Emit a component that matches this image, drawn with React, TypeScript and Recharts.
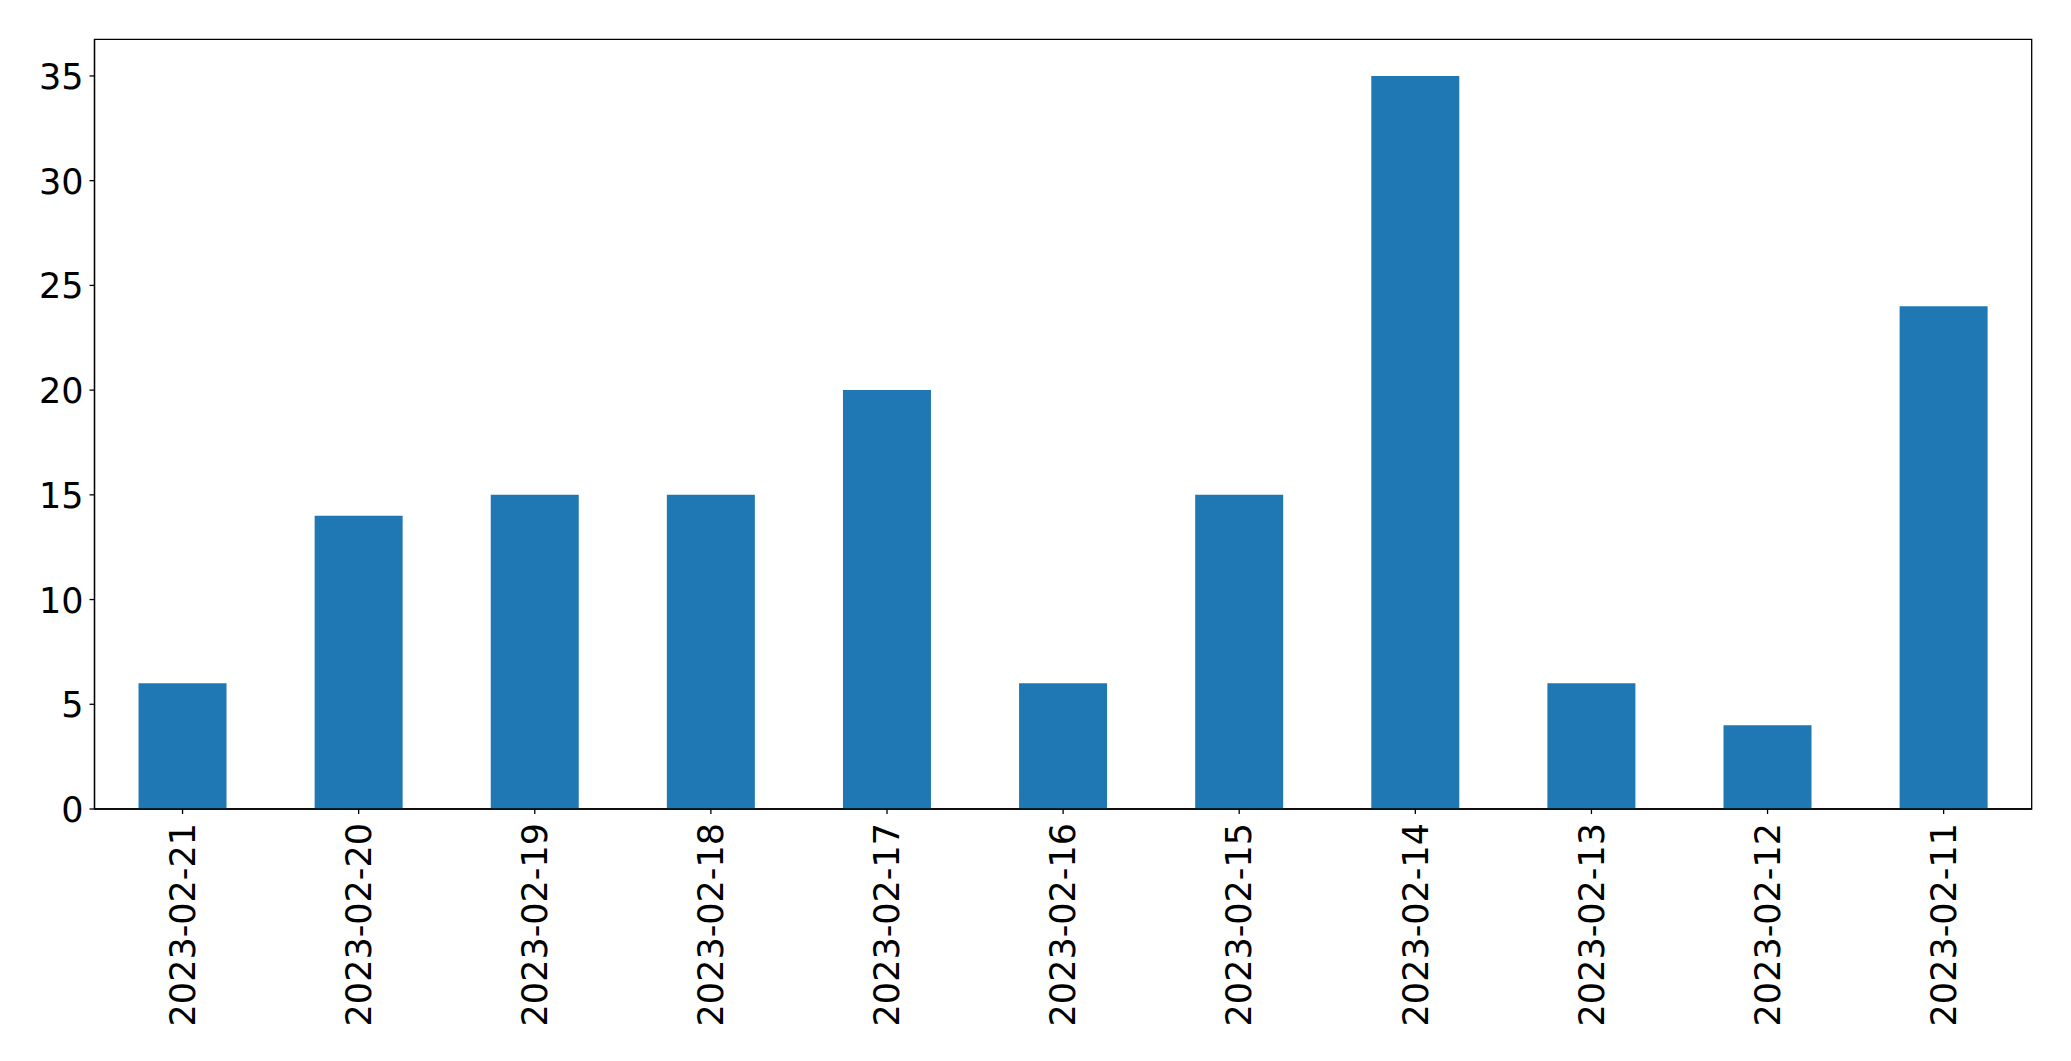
import React from "react";
import { BarChart, Bar, XAxis, YAxis, ReferenceArea } from "recharts";

const categories = [
  "2023-02-21",
  "2023-02-20",
  "2023-02-19",
  "2023-02-18",
  "2023-02-17",
  "2023-02-16",
  "2023-02-15",
  "2023-02-14",
  "2023-02-13",
  "2023-02-12",
  "2023-02-11",
];
const counts = [6, 14, 15, 15, 20, 6, 15, 35, 6, 4, 24];
const yTicks = [0, 5, 10, 15, 20, 25, 30, 35];
const yMax = 36.75;

const data = categories.map((c, i) => ({ date: c, count: counts[i] }));

const FONT = "'DejaVu Sans', sans-serif";
const FS = 35;

const XTick = (props: any) => {
  const { x, y, payload } = props;
  return (
    <text
      transform={`translate(${x + 12.2}, ${y}) rotate(-90)`}
      textAnchor="end"
      fontFamily={FONT}
      fontSize={FS}
      fill="#000"
    >
      {payload.value}
    </text>
  );
};

const YTick = (props: any) => {
  const { x, y, payload } = props;
  return (
    <text x={x} y={y + 13} textAnchor="end" fontFamily={FONT} fontSize={FS} fill="#000">
      {payload.value}
    </text>
  );
};

export default function App() {
  return (
    <div style={{ position: "absolute", left: 0, top: 0, width: 2071, height: 1061, background: "#fff" }}>
      <style>{`body{margin:0;background:#fff;}`}</style>
      <BarChart
        width={2071}
        height={1061}
        data={data}
        margin={{ top: 39.3, right: 39.3, bottom: 0, left: 0 }}
        barCategoryGap="25%"
      >
        <XAxis
          dataKey="date"
          height={252}
          interval={0}
          tick={<XTick />}
          tickSize={5}
          tickMargin={9}
          stroke="#000"
          axisLine={{ stroke: "#000", strokeWidth: 1.3 }}
          tickLine={{ stroke: "#000", strokeWidth: 1.3 }}
        />
        <YAxis
          width={94.5}
          domain={[0, yMax]}
          ticks={yTicks}
          allowDataOverflow
          tick={<YTick />}
          tickSize={5}
          tickMargin={6}
          stroke="#000"
          axisLine={{ stroke: "#000", strokeWidth: 1.3 }}
          tickLine={{ stroke: "#000", strokeWidth: 1.3 }}
        />
        <Bar dataKey="count" fill="#1f77b4" isAnimationActive={false} />
        <ReferenceArea
          y1={0}
          y2={yMax}
          fill="none"
          fillOpacity={0}
          stroke="#000"
          strokeWidth={1.3}
          ifOverflow="visible"
        />
      </BarChart>
    </div>
  );
}
